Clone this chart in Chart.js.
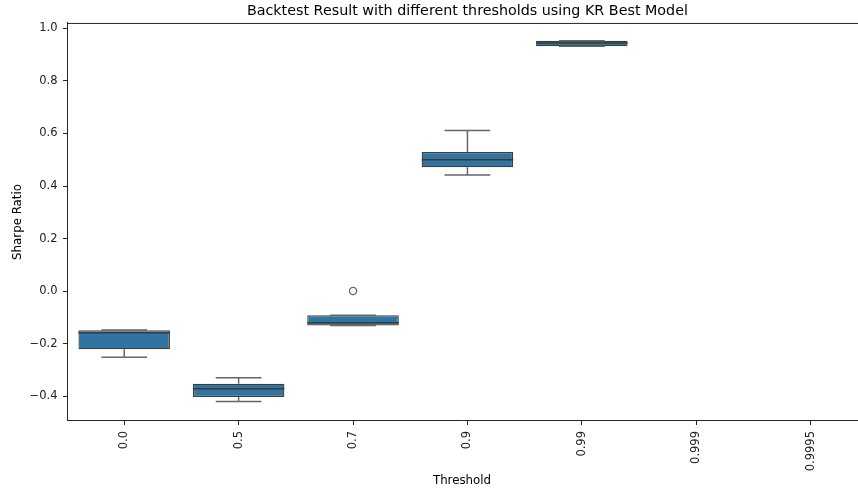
<!DOCTYPE html>
<html>
<head>
<meta charset="utf-8">
<script src="https://cdn.jsdelivr.net/npm/chart.js@4.4.1/dist/chart.umd.min.js"></script>
<style>
  html, body { margin: 0; padding: 0; background: #fff; }
  #wrap { width: 858px; height: 494px; position: relative; }
</style>
</head>
<body>
<div id="wrap"><canvas id="c" width="858" height="494"></canvas></div>
<script>
// ---- data ----
const categories = ["0.0", "0.5", "0.7", "0.9", "0.99", "0.999", "0.9995"];
const whiskerLow  = [-0.252, -0.421, -0.131, 0.442, 0.932];
const q1Values    = [-0.222, -0.404, -0.131, 0.471, 0.932];
const medians     = [-0.159, -0.372, -0.121, 0.500, 0.945];
const q3Values    = [-0.149, -0.353, -0.092, 0.530, 0.953];
const whiskerHigh = [-0.148, -0.330, -0.092, 0.611, 0.953];
const outlierCat  = [2];
const outlierVal  = [0.0];
const yTickValues = [-0.4, -0.2, 0.0, 0.2, 0.4, 0.6, 0.8, 1.0];
const yTickLabels = ["\u22120.4", "\u22120.2", "0.0", "0.2", "0.4", "0.6", "0.8", "1.0"];

const FONT = "'DejaVu Sans', sans-serif";
const boxData = q1Values.map((q, i) => ({ x: i, y: [q, q3Values[i]] }));
const outlierData = outlierCat.map((c, i) => ({ x: c, y: outlierVal[i] }));

const boxPlugin = {
  id: 'boxParts',
  afterLayout(chart) {
    // centre the title over the full axes span (categories -0.5 .. n-0.5)
    const xs = chart.scales.x;
    if (chart.titleBlock) {
      chart.titleBlock.left = chart.chartArea.left;
      chart.titleBlock.right = xs.getPixelForValue(categories.length - 0.5);
    }
  },
  afterDatasetsDraw(chart) {
    const ctx = chart.ctx;
    const xs = chart.scales.x, ys = chart.scales.y;
    const meta = chart.getDatasetMeta(0);
    ctx.save();
    q1Values.forEach((q1, i) => {
      const bar = meta.data[i];
      const half = bar.width / 2;
      const cx = xs.getPixelForValue(i);
      const capHalf = half / 2;
      ctx.strokeStyle = '#666666';
      ctx.lineWidth = 1.5;
      const yq1 = ys.getPixelForValue(q1), yq3 = ys.getPixelForValue(q3Values[i]);
      const ylo = ys.getPixelForValue(whiskerLow[i]), yhi = ys.getPixelForValue(whiskerHigh[i]);
      ctx.beginPath();
      ctx.moveTo(cx, yq1); ctx.lineTo(cx, ylo);
      ctx.moveTo(cx, yq3); ctx.lineTo(cx, yhi);
      ctx.moveTo(cx - capHalf, ylo); ctx.lineTo(cx + capHalf, ylo);
      ctx.moveTo(cx - capHalf, yhi); ctx.lineTo(cx + capHalf, yhi);
      ctx.stroke();
      const ym = ys.getPixelForValue(medians[i]);
      ctx.strokeStyle = '#3a3a3a';
      ctx.lineWidth = 1.5;
      ctx.beginPath();
      ctx.moveTo(cx - half, ym); ctx.lineTo(cx + half, ym);
      ctx.stroke();
    });
    ctx.restore();
  },
  afterDraw(chart) {
    const ctx = chart.ctx, a = chart.chartArea;
    ctx.save();
    ctx.strokeStyle = '#262626';
    ctx.lineWidth = 1;
    ctx.beginPath();
    ctx.moveTo(a.left, a.top + 0.5);
    ctx.lineTo(a.right + 2, a.top + 0.5);
    ctx.stroke();
    ctx.restore();
  }
};

new Chart(document.getElementById('c'), {
  type: 'bar',
  data: {
    datasets: [
      {
        type: 'bar',
        data: boxData,
        backgroundColor: '#3274a1',
        borderColor: '#3d3d3d',
        borderWidth: 1.3,
        borderSkipped: false,
        barPercentage: 0.8,
        categoryPercentage: 1.0,
        order: 2
      },
      {
        type: 'scatter',
        data: outlierData,
        pointStyle: 'circle',
        pointRadius: 3.6,
        pointBackgroundColor: 'rgba(0,0,0,0)',
        pointBorderColor: '#666666',
        pointBorderWidth: 1.3,
        order: 1
      }
    ]
  },
  options: {
    responsive: false,
    animation: false,
    events: [],
    layout: { autoPadding: false, padding: { left: 0, right: 1, top: 0, bottom: 0 } },
    plugins: {
      legend: { display: false },
      tooltip: { enabled: false },
      title: {
        display: true,
        text: 'Backtest Result with different thresholds using KR Best Model',
        color: '#000',
        font: { family: FONT, size: 14.3, weight: 'normal', lineHeight: 1.2 },
        padding: { top: 2.4, bottom: 3.4 }
      }
    },
    scales: {
      x: {
        type: 'linear',
        min: -0.5,
        max: 6.405,
        offset: false,
        afterBuildTicks(scale) { scale.ticks = categories.map((c, i) => ({ value: i })); },
        afterFit(scale) { scale.height = 73; scale.paddingLeft = 0; scale.paddingRight = 0; },
        ticks: {
          autoSkip: false,
          minRotation: 90,
          maxRotation: 90,
          padding: 6,
          color: '#222',
          font: { family: FONT, size: 11.5 },
          callback: (v) => categories[v]
        },
        grid: { display: true, offset: false, drawOnChartArea: false, drawTicks: true, tickLength: 4, color: '#262626', lineWidth: 1 },
        border: { display: true, color: '#262626', width: 1 },
        title: {
          display: true,
          text: 'Threshold',
          color: '#000',
          font: { family: FONT, size: 11.8, lineHeight: 1.2 },
          padding: { top: 2, bottom: 6 }
        }
      },
      y: {
        type: 'linear',
        min: -0.495,
        max: 1.021,
        afterBuildTicks(scale) { scale.ticks = yTickValues.map(v => ({ value: v })); },
        afterFit(scale) { scale.width = 67; },
        ticks: {
          padding: 5.5,
          color: '#222',
          font: { family: FONT, size: 11.5 },
          callback: (v) => { const k = yTickValues.findIndex(t => Math.abs(t - v) < 1e-9); return k >= 0 ? yTickLabels[k] : ''; }
        },
        grid: { display: true, drawOnChartArea: false, drawTicks: true, tickLength: 4, color: '#262626', lineWidth: 1 },
        border: { display: true, color: '#262626', width: 1 },
        title: {
          display: true,
          text: 'Sharpe Ratio',
          color: '#000',
          font: { family: FONT, size: 11.8, lineHeight: 1.2 },
          padding: { top: 11, bottom: 4 }
        }
      }
    }
  },
  plugins: [boxPlugin]
});
</script>
</body>
</html>
